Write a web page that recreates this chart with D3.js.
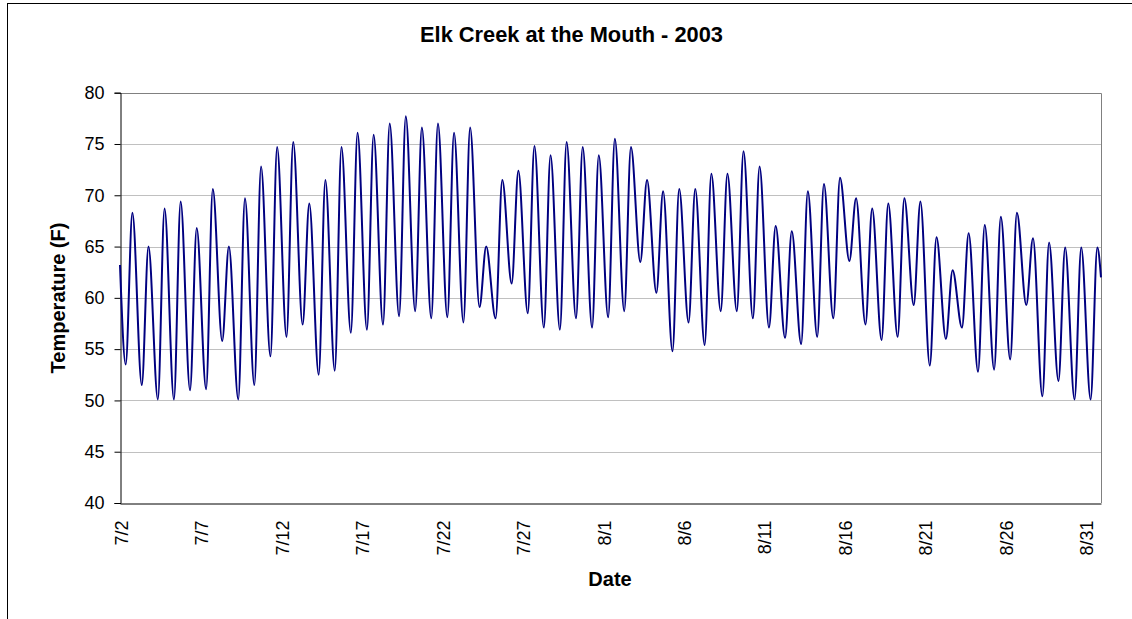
<!DOCTYPE html>
<html>
<head>
<meta charset="utf-8">
<script src="https://cdn.jsdelivr.net/npm/d3@7"></script>
<style>
  html, body { margin: 0; padding: 0; background: #fff; }
  svg { display: block; font-family: "Liberation Sans", Arial, sans-serif; }
</style>
</head>
<body>
<svg id="chart" width="1132" height="619"></svg>
<script>
// ---------------- data ----------------
const chartTitle = "Elk Creek at the Mouth - 2003";
const xTitle = "Date";
const yTitle = "Temperature (F)";

const startDate = "2003-07-02";
// daily minimum (morning) and maximum (evening) water temperature, 7/2 .. 8/31
const dailyMin = [
  53.5, 51.5, 50.1, 50.1, 51.0, 51.1, 55.8, 50.1, 51.5, 54.3,
  56.2, 57.4, 52.5, 52.9, 56.6, 56.9, 57.4, 58.2, 58.7, 58.0,
  58.1, 57.6, 59.1, 58.0, 61.4, 58.5, 57.1, 56.9, 58.0, 57.1,
  58.1, 58.7, 63.5, 60.5, 54.8, 57.6, 55.4, 58.7, 58.7, 58.0,
  57.1, 56.1, 55.5, 56.2, 58.0, 63.6, 57.4, 55.9, 56.2, 59.3,
  53.4, 56.0, 57.1, 52.8, 53.0, 54.0, 59.3, 50.4, 51.9, 50.1,
  50.1
];
const dailyMax = [
  68.3, 65.0, 68.7, 69.4, 66.8, 70.6, 65.0, 69.7, 72.8, 74.7,
  75.2, 69.2, 71.5, 74.7, 76.1, 75.9, 77.0, 77.7, 76.6, 77.0,
  76.1, 76.6, 65.0, 71.5, 72.4, 74.8, 73.9, 75.2, 74.7, 73.9,
  75.5, 74.7, 71.5, 70.4, 70.6, 70.6, 72.1, 72.1, 74.3, 72.8,
  67.0, 66.5, 70.4, 71.1, 71.7, 69.7, 68.7, 69.2, 69.7, 69.4,
  65.9, 62.7, 66.3, 67.1, 67.9, 68.3, 65.8, 65.4, 64.9, 64.9,
  64.9
];
const firstReading = 63.2;   // 7/2 00:00
const lastReading = 62.0;    // end of record
const minHour = 8.5;         // typical hour of daily low
const maxHour = 18.5;        // typical hour of daily high

const yTicks = [40, 45, 50, 55, 60, 65, 70, 75, 80];
const xTickLabels = ["7/2","7/7","7/12","7/17","7/22","7/27","8/1","8/6","8/11","8/16","8/21","8/26","8/31"];

// ---------------- build series ----------------
const parse = d3.timeParse("%Y-%m-%d");
const t0 = parse(startDate);
const series = [{ t: t0, v: firstReading }];
dailyMin.forEach((mn, k) => {
  const day = d3.timeDay.offset(t0, k);
  series.push({ t: d3.timeMinute.offset(day, minHour * 60), v: mn });
  series.push({ t: d3.timeMinute.offset(day, maxHour * 60), v: dailyMax[k] });
});
const tEnd = d3.timeDay.offset(t0, dailyMin.length);
series.push({ t: tEnd, v: lastReading });

const parseTick = d3.timeParse("%Y-%m/%d");
const xTickDates = xTickLabels.map(s => parseTick("2003-" + s));

// ---------------- layout ----------------
const svg = d3.select("#chart");
const plotL = 120, plotR = 1101, plotT = 92.7, plotB = 503;

const x = d3.scaleTime().domain([t0, tEnd]).range([plotL, plotR]);
const y = d3.scaleLinear().domain([40, 80]).range([plotB, plotT]);

// outer chart border
svg.append("rect")
  .attr("x", 7.5).attr("y", 3.5).attr("width", 1135).attr("height", 625)
  .attr("fill", "#fff").attr("stroke", "#000").attr("stroke-width", 1);

// gridlines
svg.append("g").selectAll("line")
  .data(yTicks.filter(d => d > 40 && d < 80))
  .join("line")
  .attr("x1", plotL).attr("x2", plotR)
  .attr("y1", d => Math.round(y(d)) + 0.5).attr("y2", d => Math.round(y(d)) + 0.5)
  .attr("stroke", "#c0c0c0").attr("stroke-width", 1);

// plot border top/right
svg.append("path")
  .attr("d", `M${plotL},${Math.round(plotT) + 0.5}H${plotR + 0.5}V${plotB}`)
  .attr("fill", "none").attr("stroke", "#808080").attr("stroke-width", 1);

// y axis
const yAxis = svg.append("g")
  .attr("transform", `translate(${plotL + 0.5},0)`)
  .call(d3.axisLeft(y).tickValues(yTicks).tickSize(6).tickPadding(10).tickFormat(d3.format("d")));
yAxis.select(".domain").attr("stroke", "#000");
yAxis.selectAll(".tick line").attr("stroke", "#000");
yAxis.selectAll(".tick text").attr("font-size", 18).attr("fill", "#000")
  .attr("font-family", "'Liberation Sans', Arial, sans-serif");

// x axis
const xAxis = svg.append("g")
  .attr("transform", `translate(0,${plotB + 0.5})`)
  .call(d3.axisBottom(x).tickValues(xTickDates).tickSize(0)
    .tickFormat((d, i) => xTickLabels[i]));
xAxis.select(".domain").attr("stroke", "#000");
xAxis.selectAll(".tick text")
  .attr("font-size", 18).attr("fill", "#000")
  .attr("font-family", "'Liberation Sans', Arial, sans-serif")
  .attr("text-anchor", "end")
  .attr("transform", "rotate(-90)")
  .attr("x", -17).attr("y", 0).attr("dy", "0.42em");

// data line
const line = d3.line().x(d => x(d.t)).y(d => y(d.v)).curve(d3.curveMonotoneX);
svg.append("path")
  .datum(series)
  .attr("d", line)
  .attr("fill", "none")
  .attr("stroke", "#000080")
  .attr("stroke-width", 2)
  .attr("stroke-linejoin", "round");

// titles
svg.append("text")
  .attr("x", 571.5).attr("y", 41.5)
  .attr("text-anchor", "middle").attr("font-weight", "bold").attr("font-size", 21.8)
  .text(chartTitle);

svg.append("text")
  .attr("x", 610).attr("y", 586)
  .attr("text-anchor", "middle").attr("font-weight", "bold").attr("font-size", 20)
  .text(xTitle);

svg.append("text")
  .attr("transform", `translate(65,298) rotate(-90)`)
  .attr("text-anchor", "middle").attr("font-weight", "bold").attr("font-size", 20)
  .text(yTitle);
</script>
</body>
</html>
